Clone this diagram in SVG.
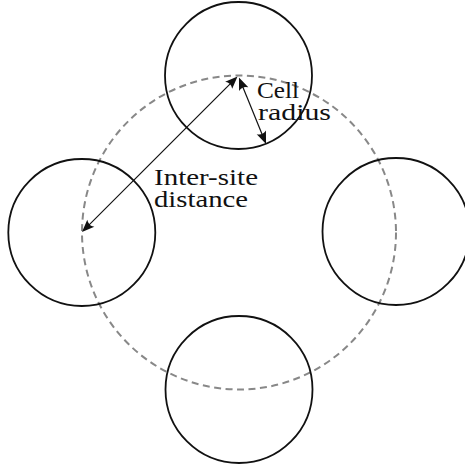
<svg xmlns="http://www.w3.org/2000/svg" width="465" height="466" viewBox="0 0 465 466">
<style>
.cell{fill:none;stroke:#111;stroke-width:1.8}
.ring{fill:none;stroke:#888;stroke-width:2;stroke-dasharray:7 4.5}
.arr{stroke:#111;stroke-width:1.2;fill:none;marker-start:url(#ah);marker-end:url(#ah)}
.lbl{font-family:"Liberation Serif","Times New Roman",serif;font-size:23px;fill:#111}
</style>
<defs>
<marker id="ah" viewBox="-13 -6 14 12" refX="-3" refY="0" markerWidth="14" markerHeight="12" markerUnits="userSpaceOnUse" orient="auto-start-reverse">
<path d="M0,0 L-12.5,-5 Q-9,0 -12.5,5 Z" fill="#111"/>
</marker>
</defs>
<circle class="ring" cx="239" cy="232.5" r="157"/>
<g id="top"><circle class="cell" cx="238.5" cy="75.5" r="73.5"/></g>
<g id="left"><circle class="cell" cx="81.8" cy="232.5" r="73.5"/></g>
<g id="right"><circle class="cell" cx="396" cy="231.5" r="73.5"/></g>
<g id="bottom"><circle class="cell" cx="239" cy="389.5" r="73.5"/></g>
<g id="connectors">
<line class="arr" x1="235.4" y1="78.6" x2="84.1" y2="229.9"/>
<line class="arr" x1="240.1" y1="80.3" x2="264.9" y2="141.2"/>
</g>
<g id="labels">
<text class="lbl" x="257" y="98" textLength="42" lengthAdjust="spacingAndGlyphs">Cell</text>
<text class="lbl" x="258" y="120" textLength="73" lengthAdjust="spacingAndGlyphs">radius</text>
<text class="lbl" x="154" y="185" textLength="104" lengthAdjust="spacingAndGlyphs">Inter-site</text>
<text class="lbl" x="154" y="207" textLength="94" lengthAdjust="spacingAndGlyphs">distance</text>
</g>
</svg>
